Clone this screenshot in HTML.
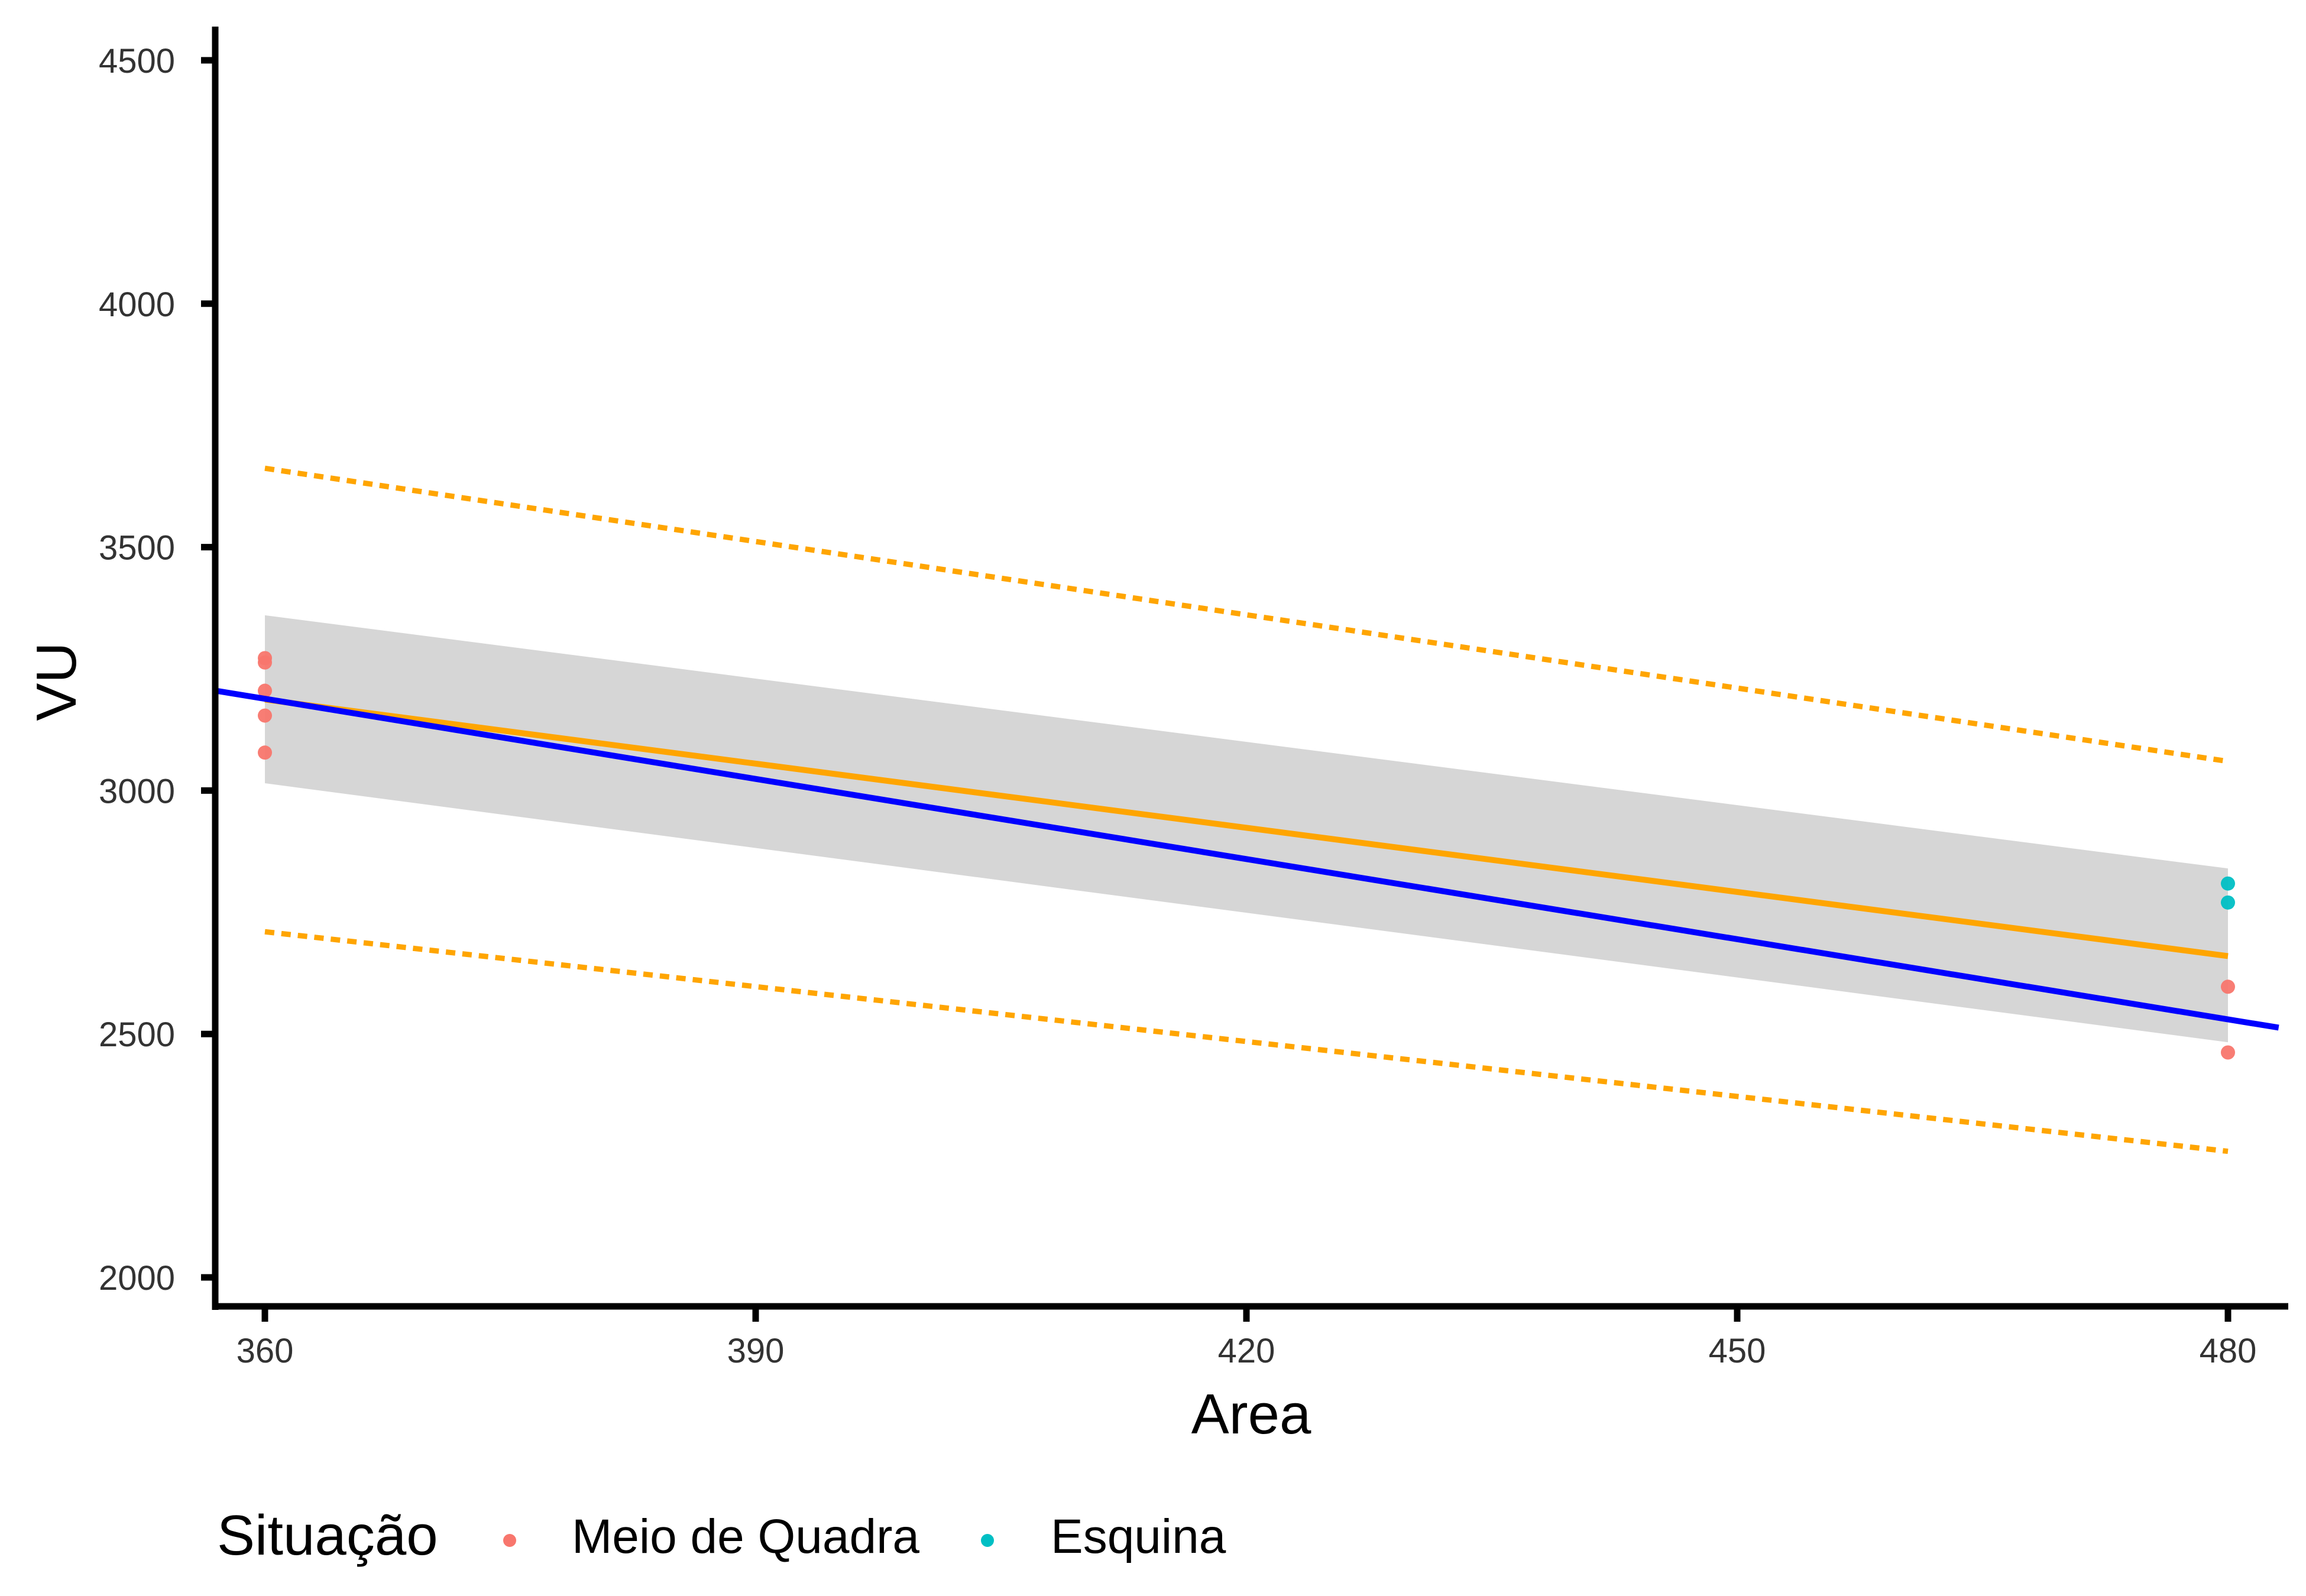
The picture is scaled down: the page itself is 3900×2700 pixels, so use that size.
<!DOCTYPE html>
<html><head><meta charset="utf-8"><style>
html,body{margin:0;padding:0;background:#fff;}
svg{display:block;font-family:"Liberation Sans",Arial,sans-serif;}
</style></head><body>
<svg id="chart" width="3900" height="2700" viewBox="0 0 3900 2700" xmlns="http://www.w3.org/2000/svg">
<rect width="3900" height="2700" fill="#fff"/>
<g id="plot"></g>
<line x1="364" y1="45" x2="364" y2="2216" stroke="#000" stroke-width="11"/>
<line x1="359" y1="2210" x2="3870" y2="2210" stroke="#000" stroke-width="11"/>
<g id="yticks"></g>
<g id="xticks"></g>
<text x="2116" y="2425" font-size="96" text-anchor="middle" fill="#000">Area</text>
<text x="0" y="0" font-size="96" text-anchor="middle" fill="#000" transform="translate(128,1153) rotate(-90)">VU</text>
<g>
<text x="367" y="2630" font-size="96" fill="#000">Situação</text>
<circle cx="862" cy="2606" r="11" fill="#F8766D"/>
<text x="967" y="2627" font-size="82" fill="#000">Meio de Quadra</text>
<circle cx="1670" cy="2606" r="11" fill="#00BFC4"/>
<text x="1777" y="2627" font-size="82" fill="#000">Esquina</text>
</g>
</svg>
<script>
const xTicks = [360, 390, 420, 450, 480];
const yTicks = [2000, 2500, 3000, 3500, 4000, 4500];
const ptArea = [360, 360, 360, 360, 360, 480, 480, 480, 480];
const ptVU = [3272, 3263, 3205, 3154, 3078, 2809, 2770, 2597, 2462];
const ptGroup = ["Meio de Quadra","Meio de Quadra","Meio de Quadra","Meio de Quadra","Meio de Quadra","Esquina","Esquina","Meio de Quadra","Meio de Quadra"];
const bandX = [360, 480];
const bandUpper = [3360, 2840];
const bandLower = [3015, 2483];
const fitVU = [3187, 2660];
const predUpper = [3662, 3060];
const predLower = [2710, 2259];
const blueX = [357, 483.1];
const blueVU = [3205, 2513];

const NS = "http://www.w3.org/2000/svg";
const xs = v => 448 + (v - 360) * (3768 - 448) / 120;
const ys = v => 102 + (4500 - v) * (2161 - 102) / 2500;
const plot = document.getElementById('plot');
function mk(tag, attrs, parent){ const e = document.createElementNS(NS, tag); for (const k in attrs) e.setAttribute(k, attrs[k]); parent.appendChild(e); return e; }

const band = mk('polygon', {points: `${xs(bandX[0])},${ys(bandUpper[0])} ${xs(bandX[1])},${ys(bandUpper[1])} ${xs(bandX[1])},${ys(bandLower[1])} ${xs(bandX[0])},${ys(bandLower[0])}`, fill:'#d6d6d6'}, plot);



const colors = {"Meio de Quadra":"#F8766D","Esquina":"#00BFC4"};
for (let i = 0; i < ptArea.length; i++) {
  const c = mk('circle', {cx: xs(ptArea[i]), cy: ys(ptVU[i]), r: 12, fill: colors[ptGroup[i]], 'fill-opacity': 0.95}, plot);
  
  
}

const pu = mk('line', {x1: xs(bandX[0]), y1: ys(predUpper[0]), x2: xs(bandX[1]), y2: ys(predUpper[1]), stroke:'#FFA500', 'stroke-width':9, 'stroke-dasharray':'16 12'}, plot);


const pl = mk('line', {x1: xs(bandX[0]), y1: ys(predLower[0]), x2: xs(bandX[1]), y2: ys(predLower[1]), stroke:'#FFA500', 'stroke-width':9, 'stroke-dasharray':'16 12'}, plot);


const fl = mk('line', {x1: xs(bandX[0]), y1: ys(fitVU[0]), x2: xs(bandX[1]), y2: ys(fitVU[1]), stroke:'#FFA500', 'stroke-width':10}, plot);


const bl = mk('line', {x1: xs(blueX[0]), y1: ys(blueVU[0]), x2: xs(blueX[1]), y2: ys(blueVU[1]), stroke:'#0000FF', 'stroke-width':10}, plot);



const yt = document.getElementById('yticks');
yTicks.forEach(v => {
  const l = mk('line', {x1: 340, y1: ys(v), x2: 364, y2: ys(v), stroke:'#000', 'stroke-width':11}, yt);
  
  
  const t = mk('text', {x: 296, y: ys(v) + 21, 'font-size': 58, 'text-anchor':'end', fill:'#333'}, yt);
  
  
  t.textContent = v;
});
const xt = document.getElementById('xticks');
xTicks.forEach(v => {
  const l = mk('line', {x1: xs(v), y1: 2210, x2: xs(v), y2: 2236, stroke:'#000', 'stroke-width':11}, xt);
  
  
  const t = mk('text', {x: xs(v), y: 2305, 'font-size': 58, 'text-anchor':'middle', fill:'#333'}, xt);
  
  
  t.textContent = v;
});
</script>
</body></html>
